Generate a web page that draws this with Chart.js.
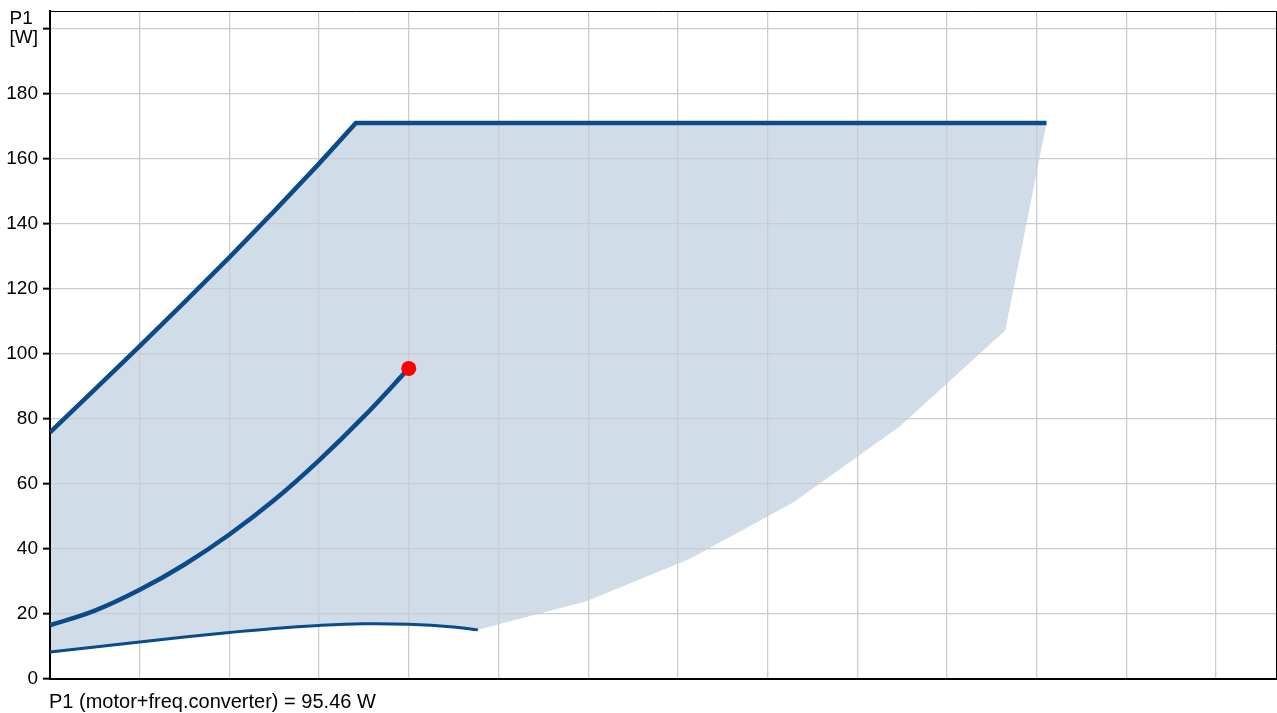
<!DOCTYPE html>
<html>
<head>
<meta charset="utf-8">
<title>P1 power range</title>
<script src="https://cdn.jsdelivr.net/npm/chart.js@4/dist/chart.umd.min.js"></script>
<style>
  html, body { margin: 0; padding: 0; background: #ffffff; overflow: hidden; }
  canvas { display: block; }
</style>
</head>
<body>
<canvas id="chart" width="1277" height="713"></canvas>
<script>
// Maximum power curve (rising part, then the flat power limit)
const upperX  = [0, 0.5, 1, 1.5, 2, 2.5, 3, 3.41, 11.11];
const upperP1 = [75.8, 89.0, 102.3, 115.8, 129.6, 143.8, 158.4, 170.9, 170.9];

// Operating curve up to the duty point
const systemX  = [0, 0.5, 1, 1.5, 2, 2.5, 3, 3.5, 4];
const systemP1 = [16.5, 21.0, 27.4, 35.2, 44.4, 55.0, 67.2, 80.7, 95.46];

// Minimum power curve
const lowerX  = [0, 0.5, 1, 1.5, 2, 2.5, 3, 3.5, 4, 4.5, 4.77];
const lowerP1 = [8.3, 9.85, 11.4, 12.9, 14.3, 15.55, 16.45, 16.95, 16.8, 16.0, 15.1];

// Right-hand boundary of the operating range (top to bottom)
const edgeX  = [10.65, 9.47, 8.29, 7.13, 5.98];
const edgeP1 = [107.1, 77.5, 54.3, 36.9, 23.9];

// Duty point
const dutyX  = [4.0];
const dutyP1 = [95.46];

// Axis ranges and tick labels
const xMin = 0, xMax = 13.68, xStep = 1;
const yMin = 0, yMax = 205.3, yStep = 20;
const yUnitLabel = ['P1 ', '[W]'];
const footerText = 'P1 (motor+freq.converter) = ' + dutyP1[0].toFixed(2) + ' W';

const toPoints = (xs, ys) => xs.map((x, i) => ({ x: x, y: ys[i] }));

// Closed outline of the shaded operating range
const rangeShape = [
  ...toPoints(upperX, upperP1),
  ...toPoints(edgeX, edgeP1),
  ...toPoints(lowerX, lowerP1).reverse()
];

const lineBlue = '#0b4b8a';

Chart.defaults.font.family = '"Liberation Sans", Arial, sans-serif';
Chart.defaults.font.size = 19;
Chart.defaults.color = '#000000';

const framePlugin = {
  id: 'frame',
  afterDraw(chart) {
    const { ctx, chartArea: a } = chart;
    ctx.save();
    ctx.strokeStyle = '#000000';
    ctx.lineWidth = 1;
    ctx.beginPath();
    ctx.moveTo(a.left, a.top + 0.5);
    ctx.lineTo(a.right - 0.5, a.top + 0.5);
    ctx.lineTo(a.right - 0.5, a.bottom);
    ctx.stroke();
    ctx.fillStyle = '#000000';
    ctx.font = '20px "Liberation Sans", Arial, sans-serif';
    ctx.textAlign = 'left';
    ctx.textBaseline = 'alphabetic';
    ctx.fillText(footerText, a.left - 1, 708);
    ctx.restore();
  }
};

new Chart(document.getElementById('chart'), {
  type: 'scatter',
  data: {
    datasets: [
      {
        data: rangeShape,
        showLine: true,
        fill: 'shape',
        backgroundColor: '#d0dce8',
        borderWidth: 0,
        pointRadius: 0,
        tension: 0,
        order: 10
      },
      {
        data: toPoints(upperX, upperP1),
        showLine: true,
        borderColor: lineBlue,
        borderWidth: 4.5,
        borderJoinStyle: 'miter',
        pointRadius: 0,
        tension: 0,
        order: 3
      },
      {
        data: toPoints(systemX, systemP1),
        showLine: true,
        borderColor: lineBlue,
        borderWidth: 4.5,
        pointRadius: 0,
        tension: 0.4,
        order: 2
      },
      {
        data: toPoints(lowerX, lowerP1),
        showLine: true,
        borderColor: lineBlue,
        borderWidth: 3,
        pointRadius: 0,
        tension: 0.4,
        order: 4
      },
      {
        data: toPoints(dutyX, dutyP1),
        showLine: false,
        pointRadius: 7.5,
        pointBackgroundColor: '#ff0000',
        pointBorderColor: '#ff0000',
        pointBorderWidth: 0,
        order: 0
      }
    ]
  },
  options: {
    responsive: false,
    maintainAspectRatio: false,
    animation: false,
    events: [],
    layout: { autoPadding: false, padding: { top: 11, right: 0, bottom: 34, left: 0 } },
    plugins: {
      legend: { display: false },
      tooltip: { enabled: false },
      title: { display: false },
      filler: { drawTime: 'beforeDraw' }
    },
    scales: {
      x: {
        type: 'linear',
        min: xMin,
        max: xMax,
        grid: { color: '#cccccc', lineWidth: 1.3, drawTicks: false },
        border: { display: true, color: '#000000', width: 2 },
        ticks: { display: false, stepSize: xStep, includeBounds: false },
        afterFit(scale) { scale.height = 0; scale.paddingLeft = 0; scale.paddingRight = 0; }
      },
      y: {
        type: 'linear',
        min: yMin,
        max: yMax,
        grid: { color: '#cccccc', lineWidth: 1.3, drawTicks: true, tickLength: 7, tickColor: '#000000', tickWidth: 2 },
        border: { display: true, color: '#000000', width: 2 },
        ticks: {
          stepSize: yStep,
          includeBounds: false,
          padding: 5,
          color: '#000000',
          font: { size: 19, lineHeight: 1.05 },
          callback: (v) => (v === 200 ? yUnitLabel : String(v))
        },
        afterFit(scale) { scale.width = 50; scale.paddingTop = 0; scale.paddingBottom = 0; }
      }
    }
  },
  plugins: [framePlugin]
});
</script>
</body>
</html>
